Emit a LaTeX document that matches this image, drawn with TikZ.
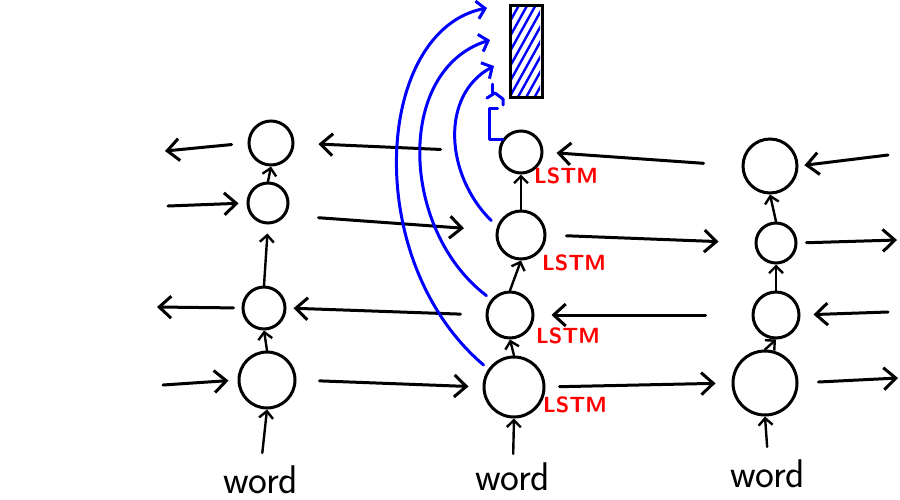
\documentclass[tikz,border=0pt]{standalone}
\usetikzlibrary{arrows.meta}

\tikzset{
  cell/.style={draw, circle, line width=1.5pt, inner sep=0pt},
  flow/.style={line width=1.5pt, line cap=round, line join=round,
    -{Straight Barb[length=6pt,width=11pt]}},
  rise/.style={line width=1.2pt, line cap=round, line join=round,
    -{Straight Barb[length=3.5pt,width=7pt]}},
  attn/.style={blue, line width=1.5pt, line cap=round, line join=round,
    -{Straight Barb[length=4pt,width=9pt]}},
  hatch/.style={blue, line width=1.2pt, line cap=round},
  lbl/.style={red, font=\sffamily\bfseries\fontsize{11}{13}\selectfont},
  tok/.style={font=\sffamily\fontsize{20}{24}\selectfont, inner sep=0pt, anchor=base},
}

\begin{document}
\begin{tikzpicture}[x=0.5pt,y=-0.5pt]
\useasboundingbox (0,0) rectangle (900,499);

% cells
\node[cell, minimum size=22pt] (l1) at (271,143) {};
\node[cell, minimum size=20pt] (l2) at (268,203) {};
\node[cell, minimum size=21pt] (l3) at (264,308) {};
\node[cell, minimum size=28pt] (l4) at (267,380) {};

\node[cell, minimum size=21pt] (m1) at (521,152) {};
\node[cell, minimum size=24pt] (m2) at (521,235) {};
\node[cell, minimum size=23pt] (m3) at (510,315) {};
\node[cell, minimum size=30pt] (m4) at (514,387) {};

\node[cell, minimum size=27pt] (r1) at (770,166) {};
\node[cell, minimum size=20pt] (r2) at (776,243) {};
\node[cell, minimum size=23pt] (r3) at (776,315) {};
\node[cell, minimum size=32pt] (r4) at (765,383) {};

\node[lbl] (lstm1) at (566,176) {LSTM};
\node[lbl] (lstm2) at (574,263) {LSTM};
\node[lbl] (lstm3) at (568,336) {LSTM};
\node[lbl] (lstm4) at (575,405) {LSTM};

\node[tok] (wl) at (261,493) {word};
\node[tok] (wm) at (513,490) {word};
\node[tok] (wr) at (768,487) {word};

% free ends
\coordinate (lout1) at (165,151);
\coordinate (lin2) at (168,206);
\coordinate (lout3) at (157,307);
\coordinate (lin4) at (163,385);
\coordinate (rin1) at (888,155);
\coordinate (rout2) at (897,240);
\coordinate (rin3) at (888,312);
\coordinate (rout4) at (898,378);

% row 1, backward
\draw[flow, shorten <=8pt] (l1.west) -- (lout1);
\draw[flow, shorten <=29pt, shorten >=12pt] (m1.west) -- (l1.east);
\draw[flow, shorten <=19pt, shorten >=6.5pt] (r1.west) -- (m1.east);
\draw[flow, shorten >=3pt] (rin1) -- (r1.east);

% row 2, forward
\draw[flow, shorten >=4pt] (lin2) -- (l2.west);
\draw[flow, shorten <=16.5pt, shorten >=16pt] (l2.-35) -- (m2.170);
\draw[flow, shorten <=10pt, shorten >=18pt] (m2.east) -- (r2.west);
\draw[flow, shorten <=4.5pt] (r2.east) -- (rout2);

% row 3, backward
\draw[flow, shorten <=4pt] (l3.west) -- (lout3);
\draw[flow, shorten <=12.5pt, shorten >=3.5pt] (m3.west) -- (l3.east);
\draw[flow, shorten <=23pt, shorten >=8.5pt] (r3.west) -- (m3.east);
\draw[flow, shorten >=6.5pt] (rin3) -- (r3.east);

% row 4, forward
\draw[flow, shorten >=4.5pt] (lin4) -- (l4.west);
\draw[flow, shorten <=11.5pt, shorten >=7pt] (l4.east) -- (m4.west);
\draw[flow, shorten <=7pt, shorten >=8pt] (m4.east) -- (r4.west);
\draw[flow, shorten <=10pt] (r4.east) -- (rout4);

% upward
\draw[rise, shorten <=6pt] (wl.north) -- (l4.south);
\draw[rise] (l4.north) -- (l3.south);
\draw[rise, shorten >=4.5pt] (l3.north) -- (l2.south);
\draw[rise] (l2.north) -- (l1.south);

\draw[rise, shorten <=4pt] (wm.north) -- (m4.south);
\draw[rise] (m4.north) -- (m3.south);
\draw[rise] (m3.north) -- (m2.south);
\draw[rise] (m2.north) -- (m1.south);

\draw[rise, shorten <=6pt] (wr.north) -- (r4.south);
\draw[rise] (r4.north) -- (r3.south);
\draw[rise] (r3.north) -- (r2.south);
\draw[rise] (r2.north) -- (r1.south);

% attention bar
\begin{scope}
  \clip (512,7) rectangle (540,95);
  \foreach \k in {-2,...,9}
    \draw[hatch] (508,40+15*\k) -- ++(40,-72);
\end{scope}
\node[draw, line width=1.5pt, minimum width=16pt, minimum height=46pt,
  inner sep=0pt] (bar) at (526,51) {};

\coordinate (tipA) at (487,8);
\coordinate (tipB) at (490,40);
\coordinate (tipC) at (494,66);
\coordinate (tipD) at (503,105);

\draw[attn, shorten <=3pt] (m4.145) .. controls (360,260) and (375,30) .. (tipA);
\draw[attn, shorten <=3pt] (m3.140) .. controls (400,230) and (395,70) .. (tipB);
\draw[attn, shorten <=4pt] (m2.160) .. controls (445,175) and (440,95) .. (tipC);
\draw[blue, line width=1.5pt, line cap=round, line join=round]
  (m1.145) -- ++(-13,0) -- ++(0,-31) -- ++(8,0);
\draw[blue, line width=1.5pt, line cap=round, line join=round]
  (tipD) -- ++(0,-6) -- ++(-8,-6) -- ++(-8,5);
\draw[blue, line width=1.5pt, line cap=round] (tipD) ++(-11,-21) -- ++(0,10);

\end{tikzpicture}
\end{document}
